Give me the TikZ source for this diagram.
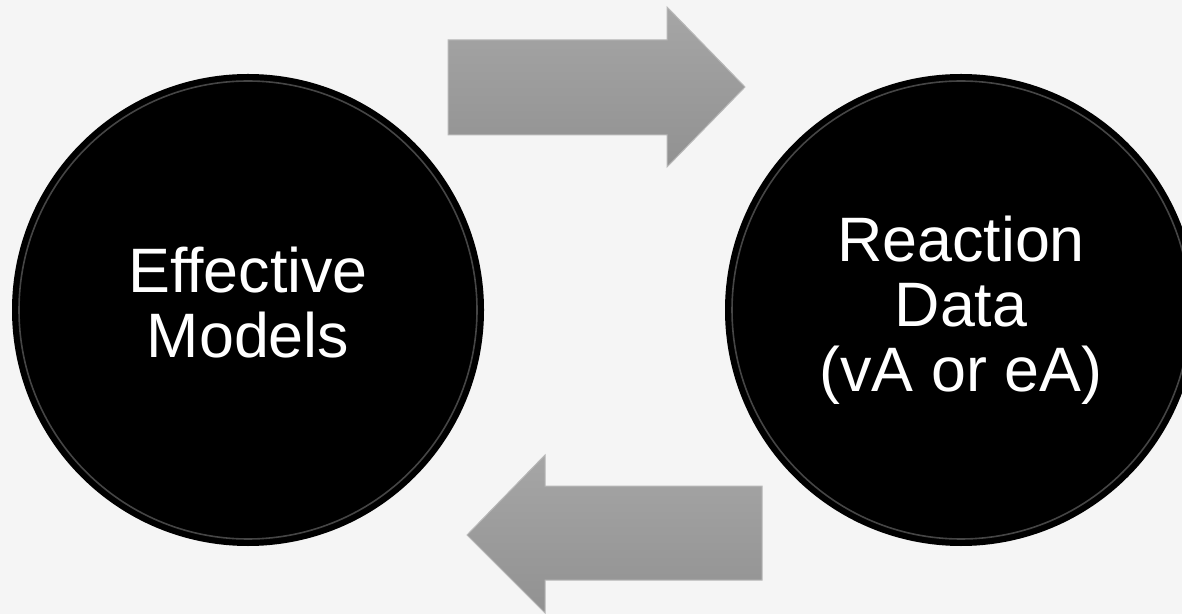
\documentclass[tikz,border=0pt]{standalone}
\usepackage{fontspec}
\setmainfont{Liberation Sans}
\usetikzlibrary{positioning}

\begin{document}
\begin{tikzpicture}[x=0.5pt,y=-0.5pt,
    ball/.style={circle,fill=black,text=white,minimum size=236pt,inner sep=0pt,
      align=center,font=\fontsize{31.4}{32.5}\selectfont},
    rim/.style={black!55,line width=0.8pt,opacity=.6},
    block/.style={top color=black!35,bottom color=black!43,draw=black!28,line width=0.5pt}]
    \useasboundingbox (0,0) rectangle (1182,614);
    \clip (0,0) rectangle (1182,614);
    \fill[black!4] (0,0) rectangle (1182,614);
    % the two balls
    \node[ball,text depth=8pt] (models) at (248,310) {Effective\\Models};
    \node[ball] (data) at (961,310) {Reaction\\Data\\(vA or eA)};
    \draw[rim] (models.center) circle (229);
    \draw[rim] (data.center) circle (229);
    % block arrows
    \path[block] (448,40) -- (667,40) -- (667,7) -- (745,87) -- (667,167)
      -- (667,135) -- (448,135) -- cycle;
    \path[block] (762,486) -- (545,486) -- (545,455) -- (467,535) -- (545,613)
      -- (545,580) -- (762,580) -- cycle;
\end{tikzpicture}
\end{document}
